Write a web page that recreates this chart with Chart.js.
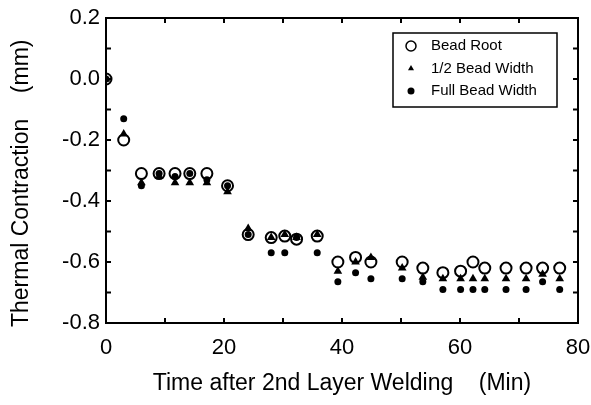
<!DOCTYPE html>
<html lang="en">
<head>
<meta charset="UTF-8" />
<title>Thermal Contraction</title>
<style>
  html, body { margin: 0; padding: 0; background: #fff; }
  #chart { display: block; }
</style>
</head>
<body>
<canvas id="chart" width="591" height="405"></canvas>
<script src="https://cdn.jsdelivr.net/npm/chart.js"></script>
<script>
  // values
  const times = [0, 3, 6, 9, 11.7, 14.2, 17.1, 20.6, 24.1, 28, 30.3, 32.3, 35.8, 39.3, 42.3, 44.9, 50.2, 53.7, 57.1, 60.1, 62.2, 64.2, 67.8, 71.2, 74, 76.9];
  const beadRoot = [0, -0.20, -0.31, -0.31, -0.31, -0.31, -0.31, -0.35, -0.51, -0.52, -0.515, -0.525, -0.515, -0.60, -0.585, -0.60, -0.60, -0.62, -0.635, -0.63, -0.60, -0.62, -0.62, -0.62, -0.62, -0.62];
  const halfWidth = [0, -0.18, -0.34, -0.32, -0.34, -0.34, -0.34, -0.37, -0.49, -0.52, -0.51, -0.52, -0.51, -0.63, -0.60, -0.585, -0.62, -0.65, -0.655, -0.655, -0.655, -0.655, -0.655, -0.655, -0.64, -0.655];
  const fullWidth = [0, -0.13, -0.35, -0.31, -0.32, -0.31, -0.33, -0.35, -0.51, -0.57, -0.57, -0.52, -0.57, -0.665, -0.635, -0.655, -0.655, -0.665, -0.69, -0.69, -0.69, -0.69, -0.69, -0.69, -0.665, -0.69];
  const seriesNames = ['Bead Root', '1/2 Bead Width', 'Full Bead Width'];

  const pts = arr => times.map((t, i) => ({ x: t, y: arr[i] }));
  const font = 'Liberation Sans, Arial, sans-serif';

  const styles = [
    { pointStyle: 'circle', radius: 5.5, borderWidth: 2, bg: 'rgba(0,0,0,0)' },
    { pointStyle: 'triangle', radius: 5, borderWidth: 0, bg: '#000' },
    { pointStyle: 'circle', radius: 3.5, borderWidth: 0, bg: '#000' }
  ];
  const data = [beadRoot, halfWidth, fullWidth];

  // frame, inward ticks and the boxed legend
  const framePlugin = {
    id: 'frame',
    afterDraw(chart) {
      const ctx = chart.ctx;
      const a = chart.chartArea;
      const xs = chart.scales.x, ys = chart.scales.y;
      ctx.save();
      ctx.strokeStyle = '#000';
      ctx.lineWidth = 2;
      ctx.strokeRect(a.left, a.top, a.right - a.left, a.bottom - a.top);
      ctx.beginPath();
      for (let v = 10; v < 80; v += 10) {
        const px = xs.getPixelForValue(v);
        ctx.moveTo(px, a.bottom); ctx.lineTo(px, a.bottom - 5);
        ctx.moveTo(px, a.top); ctx.lineTo(px, a.top + 5);
      }
      for (let k = 1; k < 10; k++) {
        const py = ys.getPixelForValue(-0.8 + k * 0.1);
        ctx.moveTo(a.left, py); ctx.lineTo(a.left + 5, py);
        ctx.moveTo(a.right, py); ctx.lineTo(a.right - 5, py);
      }
      ctx.stroke();

      // legend
      const lx = 393, ly = 33, lw = 164, lh = 74;
      ctx.lineWidth = 1.5;
      ctx.strokeRect(lx, ly, lw, lh);
      ctx.font = '15px ' + font;
      ctx.textBaseline = 'middle';
      seriesNames.forEach((name, i) => {
        const y = ly + 13 + i * 22.5;
        const s = styles[i];
        ctx.fillStyle = s.bg;
        ctx.strokeStyle = '#000';
        Chart.helpers.drawPoint(ctx, {
          pointStyle: s.pointStyle,
          radius: i === 0 ? 5 : 3.5,
          rotation: 0,
          borderWidth: s.borderWidth
        }, lx + 18, y);
        ctx.fillStyle = '#000';
        ctx.fillText(name, lx + 38, y);
      });
      ctx.restore();
    }
  };

  new Chart(document.getElementById('chart'), {
    type: 'scatter',
    data: {
      datasets: data.map((arr, i) => ({
        label: seriesNames[i],
        data: pts(arr),
        pointStyle: styles[i].pointStyle,
        pointRadius: styles[i].radius,
        pointBorderWidth: styles[i].borderWidth,
        pointBackgroundColor: styles[i].bg,
        pointBorderColor: '#000',
        showLine: false
      }))
    },
    options: {
      responsive: false,
      animation: false,
      layout: { padding: { top: 18, right: 13, left: 0, bottom: 0 } },
      plugins: { legend: { display: false }, tooltip: { enabled: false } },
      scales: {
        x: {
          type: 'linear',
          min: 0, max: 80,
          afterFit: s => { s.height = 82; s.paddingLeft = 0; s.paddingRight = 0; },
          grid: { display: false, drawTicks: false },
          border: { display: false },
          ticks: { stepSize: 20, color: '#000', padding: 12, font: { family: font, size: 22 }, maxRotation: 0 },
          title: { display: true, text: 'Time after 2nd Layer Welding    (Min)', color: '#000', font: { family: font, size: 23 }, padding: { top: 0, bottom: 8 } }
        },
        y: {
          min: -0.8, max: 0.2,
          afterFit: s => { s.width = 106; s.paddingTop = 0; s.paddingBottom = 0; },
          grid: { display: false, drawTicks: false },
          border: { display: false },
          ticks: { stepSize: 0.2, color: '#000', padding: 6, font: { family: font, size: 22 }, callback: v => v.toFixed(1) },
          title: { display: true, text: 'Thermal Contraction    (mm)    ', color: '#000', font: { family: font, size: 23 }, padding: { top: 8, bottom: 0 } }
        }
      }
    },
    plugins: [framePlugin]
  });
</script>
</body>
</html>
